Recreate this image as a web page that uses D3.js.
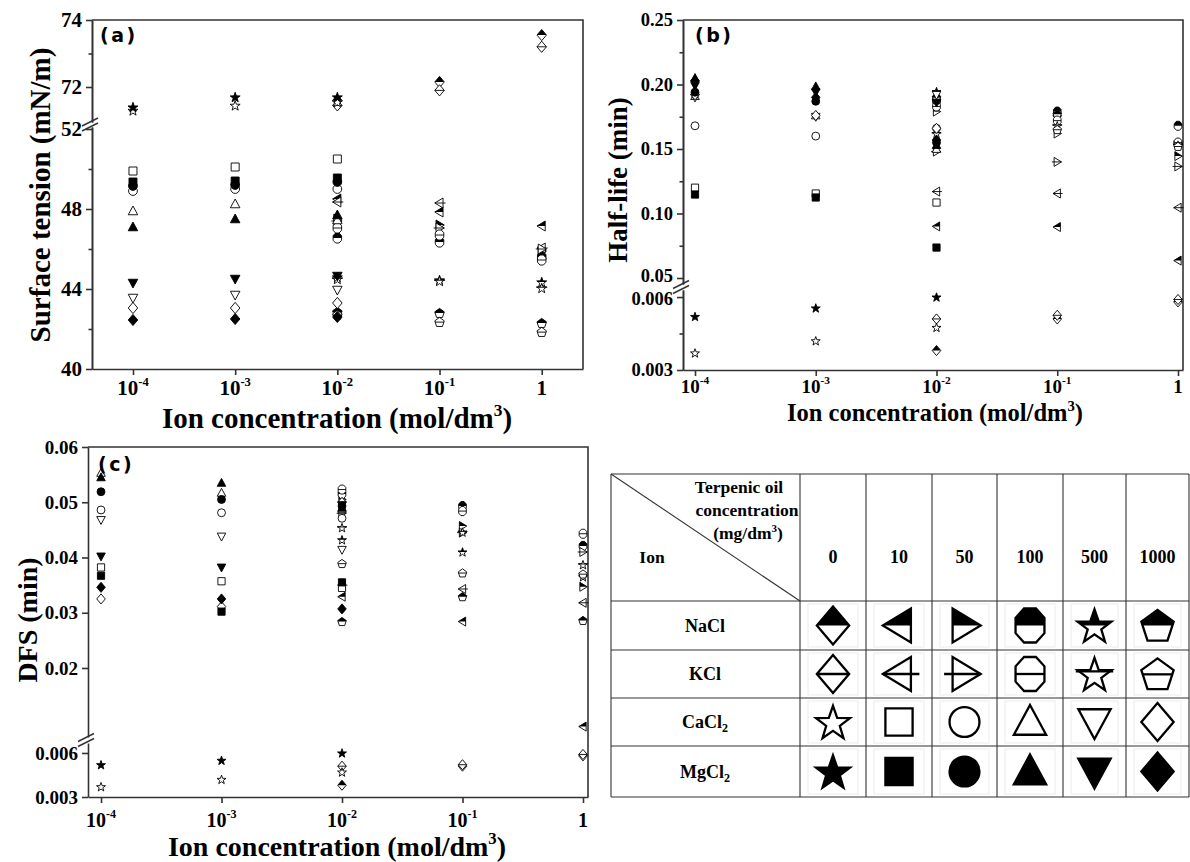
<!DOCTYPE html>
<html><head><meta charset="utf-8">
<script src="https://cdn.jsdelivr.net/npm/d3@7"></script>
<style>body{margin:0;background:#fff}svg{display:block}</style>
</head><body><svg id="c" width="1190" height="862"></svg>
<script>
// ---------------- DATA ----------------
const concentrations = [1e-4, 1e-3, 1e-2, 1e-1, 1];
const xTickLabels = [["10","-4"],["10","-3"],["10","-2"],["10","-1"],["1",""]];
const oilLevels = ["0","10","50","100","500","1000"];
const ions = ["NaCl","KCl","CaCl2","MgCl2"];
const shapesNaK = ["diamond","leftTri","rightTri","hexagon","star","pentagon"];
const shapesCaMg = ["star","square","circle","upTri","downTri","diamond"];
const ionStyles = ["half","line","open","filled"];

// (a) Surface tension (mN/m): rows = oil level, columns = ion concentration
const tensionNaCl = [[null,null,71.6,72.15,73.55],[null,null,48.5,47.85,47.15],[null,null,47.5,47.2,45.9],[null,null,46.55,46.35,45.6],[null,null,44.6,44.45,44.35],[null,null,42.85,42.8,42.3]];
const tensionKCl  = [[null,null,71.45,71.9,73.2],[null,null,48.35,48.3,46.05],[null,null,47.4,47.05,46.0],[null,null,47.05,46.7,45.45],[null,null,44.5,44.4,44.05],[null,null,42.7,42.35,41.85]];
const tensionCaCl2 = [[71.3,71.45,71.55,null,null],[49.9,50.1,50.5,null,null],[48.9,49.0,49.0,null,null],[47.9,48.25,47.45,null,null],[43.55,43.7,43.95,null,null],[43.05,43.05,43.3,null,null]];
const tensionMgCl2 = [[71.4,71.7,71.7,null,null],[49.35,49.4,49.55,null,null],[49.15,49.2,49.35,null,null],[47.1,47.5,47.7,null,null],[44.3,44.5,44.65,null,null],[42.45,42.5,42.6,null,null]];

// (b) Half-life (min)
const halfNaCl = [[null,null,0.0038,0.0051,0.0058],[null,null,0.090,0.0895,0.0635],[null,null,0.179,0.162,0.1445],[null,null,0.187,0.179,0.168],[null,null,0.1945,0.175,0.153],[null,null,0.190,0.177,0.155]];
const halfKCl  = [[null,null,0.0051,0.00525,0.0059],[null,null,0.117,0.1155,0.1045],[null,null,0.148,0.140,0.1365],[null,null,0.183,0.172,0.155],[null,null,0.162,0.168,0.153],[null,null,0.188,0.165,0.152]];
const halfCaCl2 = [[0.0037,0.0042,0.00475,null,null],[0.120,0.1155,0.1085,null,null],[0.168,0.160,0.166,null,null],[0.191,0.176,0.150,null,null],[0.190,0.175,0.192,null,null],[0.192,0.176,0.166,null,null]];
const halfMgCl2 = [[0.0052,0.00555,0.006,null,null],[0.1147,0.1124,0.0736,null,null],[0.194,0.187,0.155,null,null],[0.205,0.1985,0.153,null,null],[0.199,0.194,0.186,null,null],[0.203,0.190,0.157,null,null]];

// (c) DFS (min)
const dfsNaCl = [[null,null,0.0038,0.0051,0.0058],[null,null,0.0329,0.0284,0.0094],[null,null,0.0505,0.0457,0.0347],[null,null,0.0515,0.0493,0.0421],[null,null,0.0432,0.0410,0.0365],[null,null,0.0284,0.0329,0.0286]];
const dfsKCl  = [[null,null,0.0051,0.0052,0.0059],[null,null,0.0350,0.0343,0.0318],[null,null,0.0480,0.0445,0.0410],[null,null,0.0523,0.0484,0.0443],[null,null,0.0454,0.0446,0.0387],[null,null,0.0389,0.0372,0.0370]];
const dfsCaCl2 = [[0.0037,0.0042,0.0047,null,null],[0.0382,0.0357,0.0345,null,null],[0.0486,0.0481,0.0471,null,null],[0.0553,0.0517,0.0488,null,null],[0.0468,0.0438,0.0414,null,null],[0.0325,0.0311,0.0500,null,null]];
const dfsMgCl2 = [[0.0052,0.0055,0.006,null,null],[0.0367,0.0302,0.0355,null,null],[0.0519,0.0505,0.0493,null,null],[0.0545,0.0535,0.0490,null,null],[0.0402,0.0382,0.0495,null,null],[0.0346,0.0325,0.0307,null,null]];

// ---------------- DRAWING ----------------
const SERIF = "'Liberation Serif','Times New Roman',serif";
const svg = d3.select("#c");
svg.append("defs").append("clipPath").attr("id","topHalf")
  .append("rect").attr("x",-100).attr("y",-100).attr("width",200).attr("height",100);

function starPts(){const a=[];for(let k=0;k<10;k++){const t=-Math.PI/2+k*Math.PI/5;const rr=k%2?0.42:1.05;a.push([rr*Math.cos(t),rr*Math.sin(t)+0.1]);}return a;}
function pentPts(){const a=[];for(let k=0;k<5;k++){const t=-Math.PI/2+k*2*Math.PI/5;a.push([Math.cos(t),Math.sin(t)+0.08]);}return a;}
const SHAPES = {
  diamond:[[0,-1.12],[0.95,0],[0,1.12],[-0.95,0]],
  leftTri:[[-0.95,0],[0.7,-1],[0.7,1]],
  rightTri:[[0.95,0],[-0.7,-1],[-0.7,1]],
  hexagon:[[-0.35,-1],[0.35,-1],[0.85,-0.45],[0.85,0.45],[0.35,1],[-0.35,1],[-0.85,0.45],[-0.85,-0.45]],
  star:starPts(), pentagon:pentPts(),
  square:[[-0.8,-0.8],[0.8,-0.8],[0.8,0.8],[-0.8,0.8]],
  upTri:[[0,-1],[0.95,0.75],[-0.95,0.75]],
  downTri:[[0,1],[0.95,-0.75],[-0.95,-0.75]]
};
const LINE = {diamond:[-0.95,0.95,0],leftTri:[-0.95,1.2,0],rightTri:[-1.2,0.95,0],hexagon:[-0.85,0.85,0],star:[-1.1,1.1,-0.15],pentagon:[-0.88,0.88,0.02]};
function polyPath(pts,r){return "M"+pts.map(p=>(p[0]*r).toFixed(2)+","+(p[1]*r).toFixed(2)).join("L")+"Z";}
function circlePath(k){return `M${-k},0A${k},${k} 0 1,0 ${k},0A${k},${k} 0 1,0 ${-k},0Z`;}

function marker(parent, shape, style, cx, cy, r, sw){
  const g = parent.append("g").attr("transform",`translate(${cx},${cy})`);
  const d = shape==="circle" ? circlePath(0.88*r) : polyPath(SHAPES[shape], r);
  if(style==="filled"){
    g.append("path").attr("d",d).attr("fill","#000").attr("stroke","#000").attr("stroke-width",sw);
    return;
  }
  g.append("path").attr("d",d).attr("fill","#fff");
  if(style==="half") g.append("path").attr("d",d).attr("fill","#000").attr("clip-path","url(#topHalf)");
  g.append("path").attr("d",d).attr("fill","none").attr("stroke","#000").attr("stroke-width",sw);
  if(style==="line"){
    const L=LINE[shape];
    g.append("line").attr("x1",L[0]*r).attr("x2",L[1]*r).attr("y1",L[2]*r).attr("y2",L[2]*r)
      .attr("stroke","#000").attr("stroke-width",sw);
  }
}
function shapeFor(ionIdx, oilIdx){ return ionIdx<2 ? shapesNaK[oilIdx] : shapesCaMg[oilIdx]; }

function styleAxis(g){
  g.select(".domain").attr("stroke","#333").attr("stroke-width",1.6);
  g.selectAll(".tick line").attr("stroke","#333").attr("stroke-width",1.6);
}

function drawPanel(p){
  const g = svg.append("g");
  const x = d3.scaleLog().domain(p.xDomain).range([p.left,p.right]);
  g.append("path").attr("d",`M${p.left},${p.top}H${p.right}V${p.bottom}`).attr("fill","none").attr("stroke","#333").attr("stroke-width",1.6);
  const xa = g.append("g").attr("transform",`translate(0,${p.bottom})`)
    .call(d3.axisBottom(x).tickValues(concentrations).tickSize(6).tickSizeOuter(0).tickFormat(""));
  styleAxis(xa);
  concentrations.forEach((c,i)=>{
    const t = g.append("text").attr("x",x(c)).attr("y",p.bottom+p.xLabDy).attr("text-anchor","middle")
      .attr("font-family",SERIF).attr("font-weight","bold").attr("font-size",p.xLabSize);
    t.append("tspan").text(xTickLabels[i][0]);
    if(xTickLabels[i][1]) t.append("tspan").attr("font-size",p.xLabSize*0.6).attr("dy",-p.xLabSize*0.45).text(xTickLabels[i][1]);
  });
  p.segments.forEach(s=>{
    s.scale = d3.scaleLinear().domain(s.domain).range(s.range);
    const ya = g.append("g").attr("transform",`translate(${p.left},0)`)
      .call(d3.axisLeft(s.scale).tickValues(s.major).tickSize(6).tickSizeOuter(0).tickPadding(4).tickFormat(d3.format(s.fmt)));
    styleAxis(ya);
    ya.selectAll(".tick text").attr("font-family",SERIF).attr("font-weight","bold").attr("font-size",p.yLabSize).attr("fill","#000")
      .attr("transform", d => (s.shift && s.shift[0]===d) ? `translate(0,${s.shift[1]})` : null);
    if(s.minor.length){
      const ym = g.append("g").attr("transform",`translate(${p.left},0)`)
        .call(d3.axisLeft(s.scale).tickValues(s.minor).tickSize(3.5).tickSizeOuter(0).tickFormat(""));
      styleAxis(ym);
    }
  });
  const by = p.breakY;
  [-2.5,2.5].forEach(o=>{
    g.append("line").attr("x1",p.left-10).attr("y1",by+o+4).attr("x2",p.left+6).attr("y2",by+o-4)
      .attr("stroke","#333").attr("stroke-width",1.4);
  });
  const yOf = v => { for(const s of p.segments){ const [a,b]=s.domain; if(v>=Math.min(a,b)&&v<=Math.max(a,b)) return s.scale(v);} return null; };
  const pts = g.append("g");
  p.data.forEach((tbl,ii)=>{
    tbl.forEach((row,oi)=>{
      row.forEach((v,ci)=>{
        if(v==null) return;
        const yy = yOf(v); if(yy==null) return;
        marker(pts, shapeFor(ii,oi), ionStyles[ii], x(concentrations[ci]), yy, p.mr, 0.9);
      });
    });
  });
  g.append("text").attr("x",p.tagX).attr("y",p.tagY).attr("font-family","'DejaVu Sans',sans-serif")
    .attr("font-weight","bold").attr("font-size",19).attr("letter-spacing",2.5).text(p.tag);
  const xt = g.append("text").attr("x",p.xtX).attr("y",p.xtY).attr("text-anchor","middle")
    .attr("font-family",SERIF).attr("font-weight","bold").attr("font-size",p.xtSize);
  xt.append("tspan").text("Ion concentration (mol/dm");
  xt.append("tspan").attr("font-size",p.xtSize*0.6).attr("dy",-p.xtSize*0.42).text("3");
  xt.append("tspan").attr("dy",p.xtSize*0.42).text(")");
  g.append("text").attr("transform",`translate(${p.ytX},${p.ytY}) rotate(-90)`).attr("text-anchor","middle")
    .attr("font-family",SERIF).attr("font-weight","bold").attr("font-size",p.ytSize).text(p.yTitle);
}

drawPanel({
  left:92,right:583,top:20,bottom:369,xDomain:[Math.pow(10,-4.401),Math.pow(10,0.404)],
  segments:[
    {domain:[70.955,74],range:[122,20],major:[72,74],minor:[73],fmt:"d"},
    {domain:[40,52.1],range:[369,127],major:[40,44,48,52],minor:[42,46,50],fmt:"d"}],
  breakY:124.5, data:[tensionNaCl,tensionKCl,tensionCaCl2,tensionMgCl2], mr:5,
  xLabDy:26,xLabSize:21,yLabSize:21,tag:"(a)",tagX:100,tagY:42,
  xtX:337,xtY:428,xtSize:29,ytX:50,ytY:195,ytSize:29,yTitle:"Surface tension (mN/m)"
});
drawPanel({
  left:683,right:1183,top:20,bottom:370,xDomain:[Math.pow(10,-4.0994),Math.pow(10,0.0414)],
  segments:[
    {domain:[0.04535,0.25],range:[284,20],major:[0.05,0.10,0.15,0.20,0.25],minor:[0.075,0.125,0.175,0.225],fmt:".2f",shift:[0.05,-2]},
    {domain:[0.003,0.00629],range:[370,290],major:[0.003,0.006],minor:[0.0045],fmt:".3f",shift:[0.006,2]}],
  breakY:287, data:[halfNaCl,halfKCl,halfCaCl2,halfMgCl2], mr:4.5,
  xLabDy:23,xLabSize:19,yLabSize:18.5,tag:"(b)",tagX:695,tagY:42,
  xtX:935,xtY:421,xtSize:24.5,ytX:627,ytY:180,ytSize:27,yTitle:"Half-life (min)"
});
drawPanel({
  left:88,right:588,top:447,bottom:797,xDomain:[Math.pow(10,-4.108),Math.pow(10,0.0415)],
  segments:[
    {domain:[0.00751,0.06],range:[737,447],major:[0.02,0.03,0.04,0.05,0.06],minor:[],fmt:".2f"},
    {domain:[0.003,0.00668],range:[797,743],major:[0.003,0.006],minor:[],fmt:".3f"}],
  breakY:740, data:[dfsNaCl,dfsKCl,dfsCaCl2,dfsMgCl2], mr:4.5,
  xLabDy:30,xLabSize:20,yLabSize:19,tag:"(c)",tagX:98,tagY:471,
  xtX:337,xtY:856,xtSize:28,ytX:37,ytY:620,ytSize:28,yTitle:"DFS (min)"
});

// ---------------- LEGEND TABLE ----------------
const colEdges = [611,800,866,932,997,1063,1126,1189];
const rowEdges = [474,601,650,698,746,797];
const tg = svg.append("g");
const lineAttr = sel => sel.attr("stroke","#333").attr("stroke-width",1.1);
colEdges.forEach(cx=>lineAttr(tg.append("line").attr("x1",cx).attr("x2",cx).attr("y1",rowEdges[0]).attr("y2",rowEdges[rowEdges.length-1])));
rowEdges.forEach(ry=>lineAttr(tg.append("line").attr("x1",colEdges[0]).attr("x2",colEdges[colEdges.length-1]).attr("y1",ry).attr("y2",ry)));
lineAttr(tg.append("line").attr("x1",colEdges[0]).attr("y1",rowEdges[0]).attr("x2",colEdges[1]).attr("y2",rowEdges[1]));
function ttext(x,y,str,size,anchor){
  return tg.append("text").attr("x",x).attr("y",y).attr("text-anchor",anchor||"middle")
    .attr("font-family",SERIF).attr("font-weight","bold").attr("font-size",size).text(str);
}
ttext(739,493,"Terpenic oil",17.5);
ttext(747,516,"concentration",17.5);
const mg = ttext(748,539,"(mg/dm",17.5); mg.append("tspan").attr("font-size",11).attr("dy",-7).text("3"); mg.append("tspan").attr("dy",7).text(")");
ttext(652,563,"Ion",17.5);
oilLevels.forEach((o,i)=>ttext((colEdges[i+1]+colEdges[i+2])/2, 563, o, 18));
ions.forEach((ion,ii)=>{
  const cy = (rowEdges[ii+1]+rowEdges[ii+2])/2;
  const m = ion.match(/^([A-Za-z]+)(\d?)$/);
  const t = ttext(705, cy+6, m[1], 18);
  if(m[2]) t.append("tspan").attr("font-size",12).attr("dy",4).text(m[2]);
  oilLevels.forEach((o,oi)=>{
    const cx = (colEdges[oi+1]+colEdges[oi+2])/2;
    tg.append("rect").attr("x",colEdges[oi+1]+8).attr("y",rowEdges[ii+1]+3)
      .attr("width",colEdges[oi+2]-colEdges[oi+1]-16).attr("height",rowEdges[ii+2]-rowEdges[ii+1]-6)
      .attr("fill","none").attr("stroke","#ececec").attr("stroke-width",1);
    marker(tg, shapeFor(ii,oi), ionStyles[ii], cx, cy, 17, 2.3);
  });
});
</script></body></html>
